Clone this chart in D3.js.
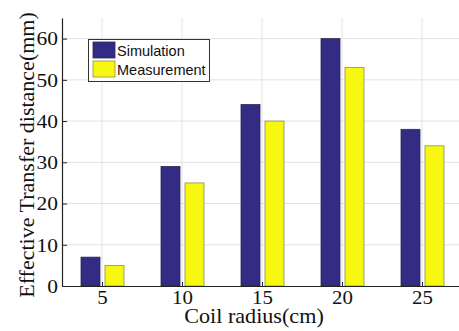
<!DOCTYPE html>
<html><head><meta charset="utf-8">
<script src="https://cdn.jsdelivr.net/npm/d3@7"></script>
<style>body{margin:0;background:#fff}svg{display:block}</style>
</head><body>
<script>
const categories = [5, 10, 15, 20, 25];
const simulation = [7, 29, 44, 60, 38];
const measurement = [5, 25, 40, 53, 34];
const yTicks = [0, 10, 20, 30, 40, 50, 60];
const seriesNames = ["Simulation", "Measurement"];
const colors = ["#322c84", "#f7f712"];
const strokes = ["#2a2a55", "#8f8f4a"];

(function () {
const W = 459, H = 331;
const svg = d3.select("body").append("svg").attr("width", W).attr("height", H);
const mLeft = 62, mTop = 18, mBottom = 286;
const serif = "Liberation Serif, Times New Roman, serif";
const x = d3.scaleLinear().domain([2.5, 27.5]).range([mLeft, 462]);
const y = d3.scaleLinear().domain([0, 65]).range([mBottom, mTop]);

// grid
const g = svg.append("g");
g.selectAll(".hg").data(yTicks.filter(d => d > 0)).enter().append("line")
  .attr("x1", mLeft).attr("x2", W).attr("y1", d => y(d)).attr("y2", d => y(d))
  .attr("stroke", "#e2e2e2").attr("stroke-width", 1);
g.selectAll(".vg").data(categories).enter().append("line")
  .attr("x1", d => x(d)).attr("x2", d => x(d)).attr("y1", mTop).attr("y2", mBottom)
  .attr("stroke", "#e2e2e2").attr("stroke-width", 1);

// bars
const bw = 19, gap = 2;
const data = [simulation, measurement];
data.forEach((vals, si) => {
  svg.append("g").selectAll("rect").data(vals).enter().append("rect")
    .attr("x", (d, i) => si === 0 ? x(categories[i]) - gap - bw : x(categories[i]) + gap + 1)
    .attr("y", d => y(d))
    .attr("width", bw)
    .attr("height", d => mBottom - y(d))
    .attr("fill", colors[si])
    .attr("stroke", strokes[si]).attr("stroke-width", 0.8);
});

// axes
const yAxis = d3.axisLeft(y).tickValues(yTicks).tickSizeInner(-5).tickSizeOuter(0).tickPadding(3.6).tickFormat(d3.format("d"));
const ya = svg.append("g").attr("transform", `translate(${mLeft},0)`).call(yAxis);
ya.select(".domain").attr("stroke", "#222").attr("stroke-width", 1.2);
ya.selectAll(".tick line").attr("stroke", "#222");
ya.selectAll("text").attr("font-family", serif).attr("font-size", 19.5).attr("fill", "#111")
  .attr("transform", "scale(1.1,1)");

const xAxis = d3.axisBottom(x).tickValues(categories).tickSizeInner(-4).tickSizeOuter(0).tickPadding(5);
const xa = svg.append("g").attr("transform", `translate(0,${mBottom})`).call(xAxis);
xa.select(".domain").attr("stroke", "#222").attr("stroke-width", 1.2);
xa.selectAll(".tick line").attr("stroke", "#222");
xa.selectAll("text").attr("font-family", serif).attr("font-size", 19).attr("fill", "#111")
  .attr("transform", "scale(1.1,1)");

// axis labels
svg.append("text").attr("transform", "translate(254,323) scale(1.08,1)").attr("text-anchor", "middle")
  .attr("font-family", serif).attr("font-size", 20.5).attr("fill", "#111")
  .text("Coil radius(cm)");
svg.append("text").attr("transform", "translate(34,155) rotate(-90)").attr("text-anchor", "middle")
  .attr("font-family", serif).attr("font-size", 22).attr("fill", "#111")
  .text("Effective Transfer distance(mm)");

// legend
const lg = svg.append("g");
lg.append("rect").attr("x", 88.5).attr("y", 39.5).attr("width", 121).attr("height", 42)
  .attr("fill", "#fff").attr("stroke", "#333").attr("stroke-width", 1);
seriesNames.forEach((n, i) => {
  lg.append("rect").attr("x", 93).attr("y", 42 + i * 19).attr("width", 22).attr("height", 16)
    .attr("fill", colors[i]).attr("stroke", strokes[i]).attr("stroke-width", 0.8);
  lg.append("text").attr("x", 117).attr("y", 55.5 + i * 19)
    .attr("font-family", "Liberation Sans, Arial, sans-serif").attr("font-size", 14.5).attr("fill", "#111")
    .text(n);
});
})();
</script>
</body></html>
